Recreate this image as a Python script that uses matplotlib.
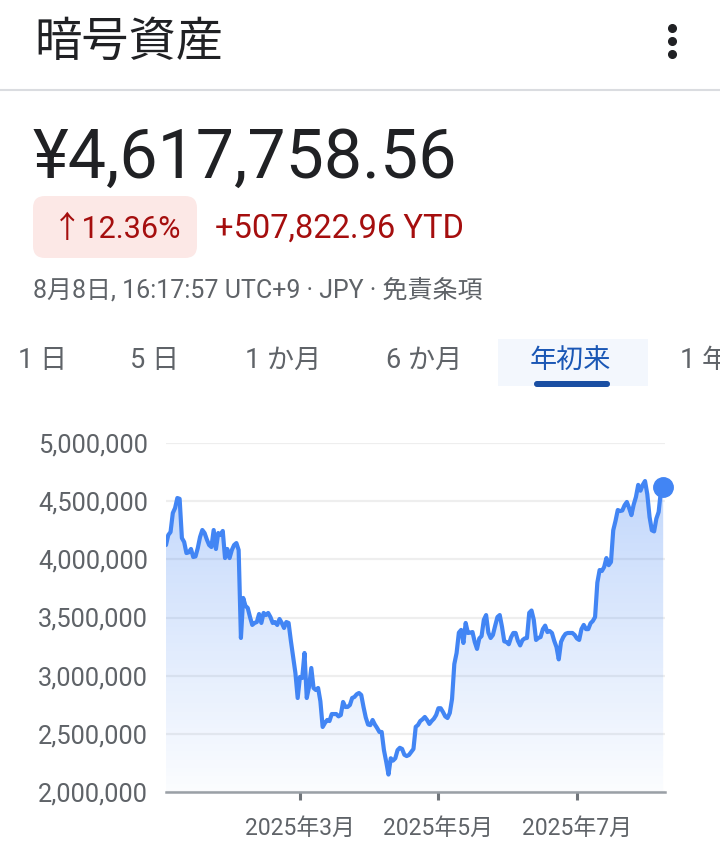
import numpy as np
import pandas as pd
import matplotlib
matplotlib.use("Agg")
import matplotlib.pyplot as plt
import matplotlib.dates as mdates
from matplotlib.patches import FancyBboxPatch, Rectangle
from matplotlib.colors import LinearSegmentedColormap
from matplotlib.ticker import FuncFormatter

plt.rcParams['font.family'] = ['Roboto', 'Noto Sans CJK JP', 'DejaVu Sans']

# daily values from 2025-01-01, in thousands of yen
start = "2025-01-01"
values_k = [
    4123, 4209, 4235, 4398, 4441, 4527, 4520, 4183, 4149, 4054,
    4060, 4089, 4020, 4025, 4097, 4192, 4252, 4226, 4170, 4123,
    4106, 4252, 4089, 4226, 4209, 4244, 4011, 4089, 4011, 4080,
    4123, 4140, 4080, 3324, 3668, 3600, 3582, 3504, 3436, 3453,
    3461, 3530, 3453, 3539, 3521, 3539, 3504, 3453, 3461, 3436,
    3487, 3453, 3410, 3461, 3453, 3300, 3160, 3023, 2808, 2989,
    2980, 3195, 2808, 2903, 3066, 2894, 2877, 2894, 2780, 2559,
    2593, 2619, 2610, 2670, 2670, 2670, 2650, 2662, 2774, 2731,
    2731, 2748, 2808, 2817, 2840, 2851, 2834, 2731, 2640, 2580,
    2575, 2619, 2580, 2550, 2516, 2516, 2360, 2260, 2150, 2290,
    2270, 2290, 2360, 2380, 2370, 2320, 2309, 2318, 2344, 2370,
    2560, 2576, 2610, 2625, 2645, 2619, 2585, 2610, 2630, 2662,
    2720, 2720, 2688, 2650, 2636, 2679, 2800, 3100, 3195, 3370,
    3393, 3281, 3453, 3367, 3370, 3375, 3289, 3230, 3320, 3340,
    3480, 3521, 3370, 3324, 3350, 3430, 3504, 3521, 3420, 3295,
    3289, 3270, 3330, 3367, 3367, 3300, 3260, 3305, 3320, 3324,
    3540, 3560, 3480, 3307, 3324, 3332, 3400, 3430, 3375, 3384,
    3367, 3300, 3246, 3140, 3290, 3332, 3360, 3367, 3367, 3367,
    3350, 3320, 3307, 3400, 3436, 3400, 3400, 3450, 3470, 3504,
    3800, 3908, 3900, 3934, 4011, 3950, 3977, 4250, 4330, 4424,
    4415, 4420, 4465, 4493, 4441, 4380, 4470, 4536, 4640, 4590,
    4640, 4673, 4560, 4364, 4250, 4240, 4350, 4407, 4590, 4617.75856,
]
yticks = [2000000, 2500000, 3000000, 3500000, 4000000, 4500000, 5000000]
xtick_dates = ["2025-03-01", "2025-05-01", "2025-07-01"]
xtick_labels = ["2025年3月", "2025年5月", "2025年7月"]
tabs = ["1 日", "5 日", "1 か月", "6 か月", "年初来", "1 年"]
tab_x = [18, 130, 245, 386, 530, 680]

vals = np.array(values_k) * 1000
dates = pd.date_range(start, periods=len(vals))
x = mdates.date2num(dates)

fig = plt.figure(figsize=(7.2, 8.51), dpi=100)
fig.patch.set_facecolor("white")

# background layer in pixel coords
bg = fig.add_axes([0, 0, 1, 1])
bg.set_xlim(0, 720)
bg.set_ylim(851, 0)
bg.axis("off")

bg.text(34, 43, "暗号資産", fontsize=34, color="#202124", va="center", ha="left")
bg.plot([672, 672, 672], [28, 41, 54], "o", ms=5.5, color="#202124")
bg.plot([0, 720], [90, 90], color="#dadce0", lw=1.5)

bg.text(33, 178, "¥4,617,758.56", fontsize=49, color="#202124", va="baseline")
bg.add_patch(FancyBboxPatch((33, 196), 164, 62, boxstyle="round,pad=0,rounding_size=12",
                            fc="#fce8e6", ec="none"))
bg.text(52, 238, "↑12.36%", fontsize=22, color="#a50e0e", va="baseline")
bg.text(215, 238, "+507,822.96 YTD", fontsize=23.5, color="#a50e0e", va="baseline")
bg.text(33, 290, "8月8日, 16:17:57 UTC+9 · JPY · 免責条項", fontsize=18,
        color="#5f6368", va="center")

bg.add_patch(Rectangle((498, 339), 150, 47, fc="#f3f7fd", ec="none"))
bg.add_patch(FancyBboxPatch((534, 381), 76, 6, boxstyle="round,pad=0,rounding_size=3",
                            fc="#1a4fa3", ec="none"))
for t, tx in zip(tabs, tab_x):
    c = "#1a57b5" if t == "年初来" else "#5f6368"
    bg.text(tx, 360, t, fontsize=19.5, color=c, va="center", ha="left", clip_on=True)

# chart
ax = fig.add_axes([166 / 720, 1 - 792 / 851, (665 - 166) / 720, (792 - 443) / 851])
ax.set_facecolor("none")

ax.plot(x, vals, color="#4285f4", lw=3, solid_joinstyle="round",
        solid_capstyle="round", zorder=3)
poly = ax.fill_between(x, vals, 2000000, color="none", lw=0)
grad = np.linspace(0, 1, 256).reshape(-1, 1)
cmap = LinearSegmentedColormap.from_list(
    "g", [(0.26, 0.52, 0.96, 0.02), (0.26, 0.52, 0.96, 0.36)])
im = ax.imshow(grad, extent=[x[0], x[0] + 219.8, 2000000, 5000000], aspect="auto",
               origin="lower", cmap=cmap, zorder=1)
im.set_clip_path(poly.get_paths()[0], transform=ax.transData)
ax.plot(x[-1], vals[-1], "o", ms=14, color="#4285f4", clip_on=False, zorder=4)

ax.set_xlim(x[0], x[0] + 219.8)
ax.set_ylim(2000000, 5000000)

ax.set_yticks(yticks)
ax.yaxis.set_major_formatter(FuncFormatter(lambda v, p: f"{v:,.0f}"))
ax.grid(axis="y", color="#eeeeee", lw=1.6)
ax.set_axisbelow(True)
ax.tick_params(axis="y", length=0, pad=13, labelsize=18.3, labelcolor="#5f6368")

ax.set_xticks(mdates.date2num(pd.to_datetime(xtick_dates)))
ax.set_xticklabels(xtick_labels)
ax.tick_params(axis="x", length=6, width=2.2, color="#70757a", pad=12,
               labelsize=16.5, labelcolor="#5f6368")

for s in ["top", "right", "left"]:
    ax.spines[s].set_visible(False)
ax.spines["bottom"].set_color("#9aa0a6")
ax.spines["bottom"].set_linewidth(1.8)

fig.savefig("out.png", dpi=100)
